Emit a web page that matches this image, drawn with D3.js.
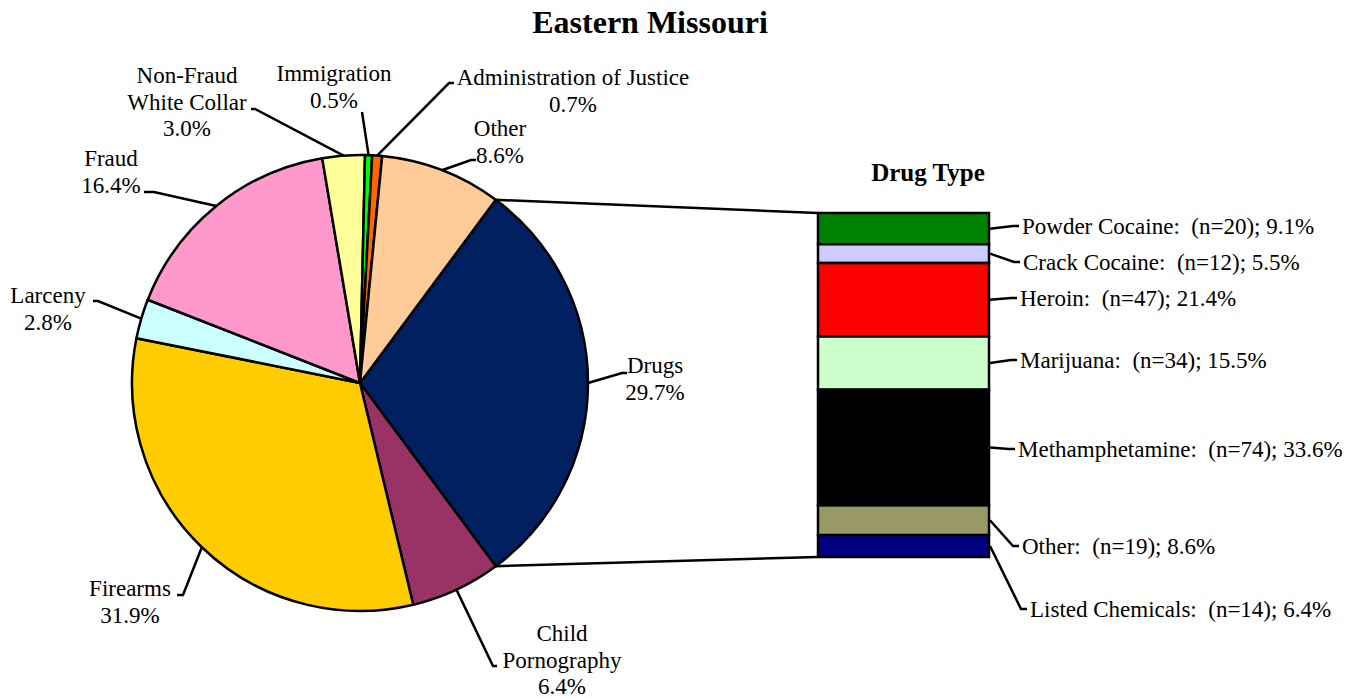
<!DOCTYPE html>
<html>
<head>
<meta charset="utf-8">
<script src="https://cdn.jsdelivr.net/npm/d3@7"></script>
<style>
  body { margin: 0; background: #fff; }
  text { font-family: "Liberation Serif", "Times New Roman", serif; fill: #000; }
</style>
</head>
<body>
<div id="chart"></div>
<script>
// offense types (pie), clockwise starting with Drugs
var offenses = ["Drugs", "Child Pornography", "Firearms", "Larceny", "Fraud",
                "Non-Fraud White Collar", "Immigration", "Administration of Justice", "Other"];
var offensePct = [29.7, 6.4, 31.9, 2.8, 16.4, 3.0, 0.5, 0.7, 8.6];
var offenseColors = ["#002060", "#993366", "#FFCC00", "#CCFFFF", "#FF99CC",
                     "#FFFF99", "#00FF00", "#FF6600", "#FFCC99"];

// drug types (bar of pie), top to bottom
var drugTypes = ["Powder Cocaine", "Crack Cocaine", "Heroin", "Marijuana",
                 "Methamphetamine", "Other", "Listed Chemicals"];
var drugCounts = [20, 12, 47, 34, 74, 19, 14];
var drugPct = [9.1, 5.5, 21.4, 15.5, 33.6, 8.6, 6.4];
var drugColors = ["#008000", "#CCCCFF", "#FF0000", "#CCFFCC", "#000000", "#999966", "#000080"];

// label layout for the pie: text lines, centre x, first line y, leader elbow + end
var pieLabels = {
  "Drugs":                     {lines: ["Drugs"], x: 655, y: 365, elbow: [622, 373], end: [627, 373]},
  "Child Pornography":         {lines: ["Child", "Pornography"], x: 562, y: 633, elbow: [493, 666], end: [497, 666]},
  "Firearms":                  {lines: ["Firearms"], x: 130, y: 588, elbow: [183, 595], end: [177, 595]},
  "Larceny":                   {lines: ["Larceny"], x: 48, y: 295, elbow: [98, 301], end: [93, 301]},
  "Fraud":                     {lines: ["Fraud"], x: 111, y: 158, elbow: [154, 192], end: [144, 192]},
  "Non-Fraud White Collar":    {lines: ["Non-Fraud", "White Collar"], x: 187, y: 75, elbow: [255, 109], end: [251, 109]},
  "Immigration":               {lines: ["Immigration"], x: 334, y: 73, elbow: [362, 112], end: [362, 112]},
  "Administration of Justice": {lines: ["Administration of Justice"], x: 573, y: 77, elbow: [449, 83], end: [454, 83]},
  "Other":                     {lines: ["Other"], x: 500, y: 128, elbow: [471, 160], end: [476, 160]}
};

// label layout for the bar: text y and x
var barLabelY = [226, 262, 298, 360, 449, 546, 609];
var barLabelX = [1022, 1023, 1020, 1020, 1018, 1022, 1030];

var width = 1351, height = 698;
var cx = 360, cy = 383, r = 228;
var lineH = 26.5;

var svg = d3.select("#chart")
  .append("svg")
    .attr("width", width)
    .attr("height", height);

// title
svg.append("text")
  .attr("x", 650)
  .attr("y", 22)
  .attr("dy", "0.35em")
  .attr("text-anchor", "middle")
  .style("font-size", "32px")
  .style("font-weight", "bold")
  .text("Eastern Missouri");

// pie
var data = offenses.map(function(d, i) { return {name: d, pct: offensePct[i], color: offenseColors[i]}; });
var drugShare = offensePct[0] / 100 * Math.PI;   // half the Drugs slice, so it is centred at 3 o'clock
var pie = d3.pie()
  .sort(null)
  .value(function(d) { return d.pct; })
  .startAngle(Math.PI / 2 - drugShare)
  .endAngle(Math.PI / 2 - drugShare + 2 * Math.PI);
var arcs = pie(data);

var arc = d3.arc().innerRadius(0).outerRadius(r);
var pieG = svg.append("g").attr("transform", "translate(" + cx + "," + cy + ")");

pieG.selectAll("path")
  .data(arcs)
  .enter()
  .append("path")
    .attr("d", arc)
    .attr("fill", function(d) { return d.data.color; })
    .attr("stroke", "black")
    .attr("stroke-width", 2.5)
    .attr("stroke-linejoin", "round");

function edgePoint(a) {
  return [cx + r * Math.sin(a), cy - r * Math.cos(a)];
}

// pie leader lines + labels
arcs.forEach(function(d) {
  var lab = pieLabels[d.data.name];
  var p0 = edgePoint((d.startAngle + d.endAngle) / 2);
  svg.append("path")
    .attr("d", d3.line()([p0, lab.elbow, lab.end]))
    .attr("fill", "none")
    .attr("stroke", "black")
    .attr("stroke-width", 2.5);

  var t = svg.append("text")
    .attr("text-anchor", "middle")
    .style("font-size", "23px");
  lab.lines.concat([d.data.pct.toFixed(1) + "%"]).forEach(function(s, k) {
    t.append("tspan")
      .attr("x", lab.x)
      .attr("y", lab.y + k * lineH)
      .attr("dy", "0.35em")
      .text(s);
  });
});

// bar of pie
var barX = 818, barW = 171;
var total = d3.sum(drugCounts);
var y = d3.scaleLinear().domain([0, total]).range([213, 557]);
var cum = d3.cumsum(drugCounts);
var bars = drugTypes.map(function(d, i) {
  return {name: d, n: drugCounts[i], pct: drugPct[i], color: drugColors[i],
          y0: i === 0 ? 0 : cum[i - 1], y1: cum[i]};
});

// connectors from the Drugs slice to the bar
var drugsArc = arcs[0];
svg.append("line")
  .attr("x1", edgePoint(drugsArc.startAngle)[0]).attr("y1", edgePoint(drugsArc.startAngle)[1])
  .attr("x2", barX).attr("y2", y(0))
  .attr("stroke", "black").attr("stroke-width", 2.5);
svg.append("line")
  .attr("x1", edgePoint(drugsArc.endAngle)[0]).attr("y1", edgePoint(drugsArc.endAngle)[1])
  .attr("x2", barX).attr("y2", y(total))
  .attr("stroke", "black").attr("stroke-width", 2.5);

svg.selectAll(".seg")
  .data(bars)
  .enter()
  .append("rect")
    .attr("class", "seg")
    .attr("x", barX)
    .attr("y", function(d) { return y(d.y0); })
    .attr("width", barW)
    .attr("height", function(d) { return y(d.y1) - y(d.y0); })
    .attr("fill", function(d) { return d.color; })
    .attr("stroke", "black")
    .attr("stroke-width", 2.5);

svg.append("text")
  .attr("x", 928)
  .attr("y", 172)
  .attr("dy", "0.35em")
  .attr("text-anchor", "middle")
  .style("font-size", "25px")
  .style("font-weight", "bold")
  .text("Drug Type");

bars.forEach(function(d, i) {
  var my = (y(d.y0) + y(d.y1)) / 2;
  var ly = barLabelY[i], lx = barLabelX[i];
  svg.append("path")
    .attr("d", d3.line()([[barX + barW + 1, my], [lx - 9, ly], [lx - 3, ly]]))
    .attr("fill", "none")
    .attr("stroke", "black")
    .attr("stroke-width", 2.5);
  svg.append("text")
    .attr("x", lx)
    .attr("y", ly)
    .attr("dy", "0.35em")
    .style("font-size", "23px")
    .style("white-space", "pre")
    .text(d.name + ":  (n=" + d.n + "); " + d.pct.toFixed(1) + "%");
});
</script>
</body>
</html>
